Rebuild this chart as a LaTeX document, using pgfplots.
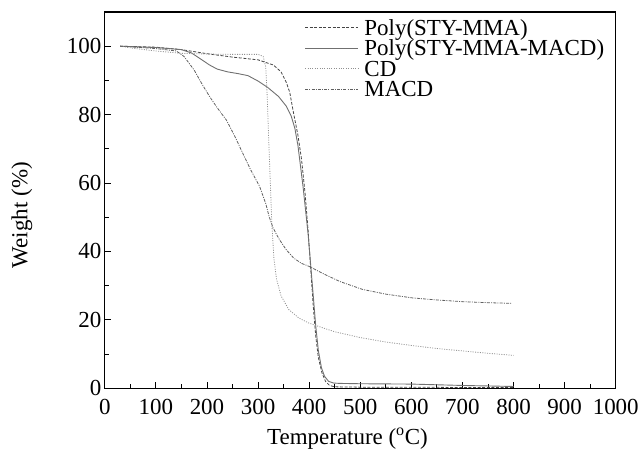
\documentclass[border=0pt]{standalone}
\usepackage{pgfplots}
\pgfplotsset{compat=1.18}
\usepackage{fontspec}
\setmainfont{Liberation Serif}
\definecolor{cA}{HTML}{444444}
\definecolor{cB}{HTML}{707070}
\definecolor{cC}{HTML}{909090}
\definecolor{cD}{HTML}{606060}
\begin{document}
\begin{tikzpicture}
\begin{axis}[
  scale only axis, width=512pt, height=377pt,
  xmin=0, xmax=1000, ymin=0, ymax=110,
  xtick={0,100,...,1000}, ytick={0,20,...,100},
  minor x tick num=1, minor y tick num=1,
  tick pos=left, tick align=inside,
  major tick length=6pt, minor tick length=4pt,
  every tick/.style={black, line width=0.9pt},
  axis line style={line width=1.2pt},
  /pgf/number format/assume math mode=true,
  /pgf/number format/1000 sep={},
  ticklabel style={font=\fontsize{23}{23}\selectfont},
  xticklabel style={yshift=-8pt},
  label style={font=\fontsize{23}{23}\selectfont},
  xlabel={Temperature ($^{\mathrm{o}}$C)},
  ylabel={Weight (\%)},
  xlabel style={at={(axis description cs:0.475,-0.133)}, anchor=center},
  ylabel style={at={(axis description cs:-0.162,0.46)}, anchor=center},
  legend cell align=left,
  legend style={draw=none, fill=none, at={(axis description cs:0.385,0.983)}, anchor=north west,
    font=\fontsize{23}{20}\selectfont, row sep=0pt,
    nodes={inner sep=0pt, text height=15pt, text depth=5.5pt}},
  legend image code/.code={\draw[#1] (0pt,3pt) -- (53pt,3pt); \path (59pt,3pt);},
]
\path (rel axis cs:0,1) ++(-105pt,12pt) coordinate (bbA);
\path (rel axis cs:1,0) ++(25pt,-65pt) coordinate (bbB);
\addplot[cA, line width=0.8pt, dash pattern=on 3pt off 1.6pt] coordinates {
(30,100) (100,99.7) (150,99) (200,97.8) (250,96.8) (300,96) (330,94.5) (345,92.5)
(355,89.5) (362,86.5) (370,80) (378,74) (385,67) (392,57) (398,46) (403,35)
(408,24) (413,15) (418,9) (425,4.5) (432,2) (440,0.8) (450,0.4) (500,0.3)
(600,0.3) (700,0.2) (800,0.2)};
\addlegendentry{Poly(STY-MMA)}
\addplot[cB, line width=0.9pt] coordinates {
(30,100) (100,99.6) (150,99) (170,98) (190,96) (205,94.5) (220,93.3) (240,92.5)
(260,92) (280,91.4) (300,89.8) (320,87.8) (340,85.3) (355,82.5) (365,79.5)
(372,76) (378,71) (383,65) (388,59) (393,52) (398,45) (403,36) (408,27) (413,18)
(418,11) (424,6) (430,3.5) (438,2) (448,1.5) (460,1.4) (500,1.3) (600,1.2)
(700,0.8) (800,0.5)};
\addlegendentry{Poly(STY-MMA-MACD)}
\addplot[cC, line width=0.8pt, dash pattern=on 1pt off 1.4pt] coordinates {
(30,100) (60,99.3) (100,98.6) (150,97.9) (200,97.7) (250,97.6) (300,97.6)
(310,97) (315,94) (318,85) (321,72) (324,60) (327,48) (331,38) (336,32)
(345,27) (360,23) (380,20.5) (400,19) (420,18) (450,16.5) (500,14.8)
(550,13.5) (600,12.5) (650,11.6) (700,10.9) (750,10.2) (800,9.6)};
\addlegendentry{CD}
\addplot[cD, line width=0.8pt, dash pattern=on 3pt off 1.2pt on 1pt off 1.2pt] coordinates {
(30,100) (100,99.3) (140,98.6) (155,97) (165,95) (175,93) (190,89) (205,85.3)
(220,82) (238,78.4) (255,73.5) (270,68.7) (285,64) (303,59) (315,54) (322,50)
(329,47) (336,45) (342,43.4) (355,40.5) (370,38) (385,36.5) (400,35.6)
(430,33.3) (460,31.2) (504,28.9) (550,27.5) (602,26.4) (650,25.8) (700,25.3)
(750,25) (797,24.8)};
\addlegendentry{MACD}
\end{axis}
\useasboundingbox (bbA) rectangle (bbB);
\end{tikzpicture}
\end{document}
